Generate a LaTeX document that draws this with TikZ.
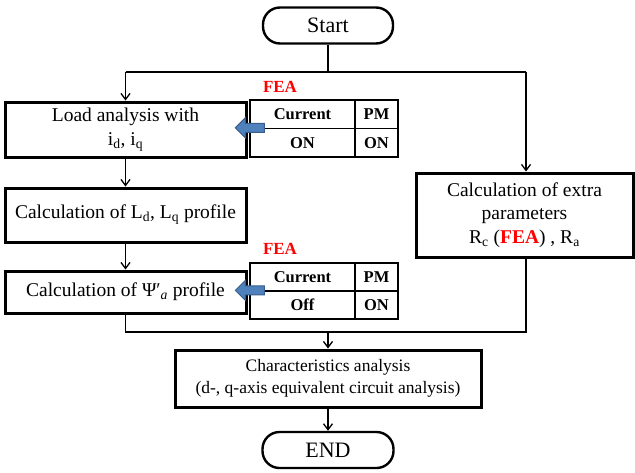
\documentclass[tikz,border=0pt]{standalone}
\usepackage{fontspec}
\setmainfont{Liberation Serif}
\usetikzlibrary{arrows.meta}
\definecolor{arrowblue}{HTML}{4F81BD}
\definecolor{arrowedge}{HTML}{385D8A}
\definecolor{feared}{HTML}{FF0000}
\begin{document}
\begin{tikzpicture}[x=1pt,y=-1pt,
  box/.style={draw,line width=3pt,fill=white,inner sep=2pt,align=center,font=\fontsize{19.5}{23.5}\selectfont},
  term/.style={draw,line width=2.4pt,rounded corners=17pt,font=\fontsize{22}{26}\selectfont,inner sep=0pt},
  cell/.style={draw,line width=1.3pt,inner sep=0pt,font=\bfseries\fontsize{16.5}{19}\selectfont},
  conn/.style={line width=1.5pt},
  arr/.style={conn,-{Straight Barb[length=6pt,width=9pt,line width=1.3pt]}},
  fea/.style={text=feared,font=\bfseries\fontsize{17}{20}\selectfont,inner sep=0pt},
  blockarrow/.style={fill=arrowblue,draw=arrowedge,line width=1pt},
  pics/blockarr/.style={code={\draw[blockarrow] (-29,0) -- (-19,-10) -- (-19,-4.5) -- (0,-4.5) -- (0,4.5) -- (-19,4.5) -- (-19,10) -- cycle;}}
]
\useasboundingbox (0,0) rectangle (635,472);

\node[term,minimum width=130pt,minimum height=36pt] (start) at (328,25.5) {Start};
\node[box,minimum width=241pt,minimum height=55pt] (load) at (125.5,129.5) {Load analysis with\\ i\textsubscript{d}, i\textsubscript{q}};
\node[box,minimum width=241pt,minimum height=54pt] (ldq) at (125.5,215) {Calculation of L\textsubscript{d}, L\textsubscript{q} profile};
\node[box,minimum width=241pt,minimum height=42pt] (psi) at (125.5,292) {Calculation of Ψ′\textsubscript{\itshape a} profile};
\node[box,minimum width=217pt,minimum height=84pt] (extra) at (524.5,215) {Calculation of extra\\parameters\\R\textsubscript{c} (\textcolor{feared}{\textbf{FEA}}) , R\textsubscript{a}};
\node[box,minimum width=306pt,minimum height=57pt,font=\fontsize{17.5}{22}\selectfont] (char) at (328,378.5) {Characteristics analysis\\(d-, q-axis equivalent circuit analysis)};
\node[term,minimum width=131pt,minimum height=36pt] (end) at (328,450) {END};

% tables
\node[fea] (fea1) at (280,87) {FEA};
\node[cell,minimum width=105pt,minimum height=28.5pt] (t1cur) at (302.5,114.25) {Current};
\node[cell,minimum width=43pt,minimum height=28.5pt] (t1pm) at (376.5,114.25) {PM};
\node[cell,minimum width=105pt,minimum height=28.5pt] (t1on) at (302.5,142.75) {ON};
\node[cell,minimum width=43pt,minimum height=28.5pt] (t1on2) at (376.5,142.75) {ON};

\node[fea] (fea2) at (280,249) {FEA};
\node[cell,minimum width=105pt,minimum height=28pt] (t2cur) at (302.5,277) {Current};
\node[cell,minimum width=43pt,minimum height=28pt] (t2pm) at (376.5,277) {PM};
\node[cell,minimum width=105pt,minimum height=28pt] (t2off) at (302.5,305) {Off};
\node[cell,minimum width=43pt,minimum height=28pt] (t2on) at (376.5,305) {ON};

\pic at ([xshift=15pt]t1on.north west) {blockarr};
\pic at ([xshift=15pt]t2off.north west) {blockarr};

% connectors
\coordinate (jl) at (125.5,72);
\coordinate (jr) at (526,72);
\coordinate (ml) at (125.5,332);
\coordinate (mr) at (526,332);
\draw[conn] (start.south) -- (start.south |- jl);
\draw[conn] (jl) -- (jr);
\draw[arr] (jl) -- (load.north);
\draw[arr] (jr) -- (jr |- extra.north);
\draw[arr] (load.south) -- (ldq.north);
\draw[arr] (ldq.south) -- (psi.north);
\draw[conn] (psi.south) -- (ml) -- (mr) -- (mr |- extra.south);
\draw[arr] (start.south |- ml) -- (char.north);
\draw[arr] (char.south) -- (end.north);
\end{tikzpicture}
\end{document}
